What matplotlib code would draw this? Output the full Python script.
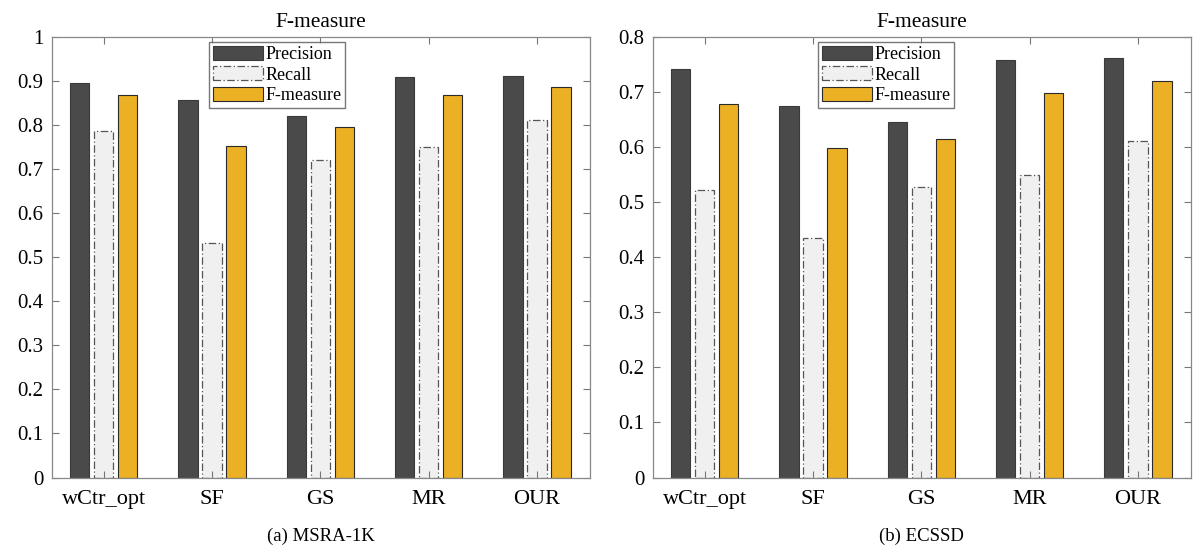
import numpy as np
import matplotlib.pyplot as plt

methods = ["wCtr_opt", "SF", "GS", "MR", "OUR"]

msra_precision = [0.895, 0.856, 0.820, 0.909, 0.911]
msra_recall = [0.786, 0.532, 0.721, 0.749, 0.812]
msra_fmeasure = [0.868, 0.751, 0.795, 0.868, 0.886]

ecssd_precision = [0.742, 0.674, 0.646, 0.758, 0.761]
ecssd_recall = [0.521, 0.434, 0.527, 0.549, 0.611]
ecssd_fmeasure = [0.677, 0.598, 0.615, 0.698, 0.720]

plt.rcParams["font.family"] = ["Liberation Serif", "DejaVu Serif"]

fig = plt.figure(figsize=(11.98, 5.49), dpi=100)


def draw_panel(ax, prec, rec, fm, ymax, yticks, caption, leg_x):
    x = np.arange(1, len(methods) + 1)
    off = 0.222
    w = 0.178
    ax.bar(x - off, prec, w, color="#4a4a4a", edgecolor="#3a3a3a",
           linewidth=0.8, label="Precision")
    ax.bar(x, rec, w, color="#f0f0f0", edgecolor="#555555",
           linewidth=0.9, linestyle=(0, (6, 2, 1, 2)), label="Recall")
    ax.bar(x + off, fm, w, color="#ebb024", edgecolor="#2a2a2a",
           linewidth=0.8, label="F-measure")

    ax.set_xlim(0.52, 5.49)
    ax.set_ylim(0, ymax)
    ax.set_xticks(x)
    ax.set_xticklabels(methods, fontsize=16)
    ax.set_yticks(yticks)
    ax.set_yticklabels([f"{t:g}" for t in yticks], fontsize=15)
    ax.tick_params(direction="in", top=True, right=True, length=5,
                   color="#777777")
    ax.tick_params(axis="y", pad=6)
    ax.tick_params(axis="x", pad=9)
    for s in ax.spines.values():
        s.set_color("#888888")
        s.set_linewidth(0.9)
    ax.set_title("F-measure", fontsize=15.5, pad=7)
    leg = ax.legend(loc="upper left", bbox_to_anchor=(leg_x, 1.0),
                    fontsize=13, frameon=True, fancybox=False,
                    borderpad=0.2, handlelength=2.75, handleheight=0.8,
                    handletextpad=0.15, labelspacing=0.2,
                    borderaxespad=0.3)
    leg.get_frame().set_edgecolor("#555555")
    leg.get_frame().set_linewidth(1.0)
    pos = ax.get_position()
    fig.text(pos.x0 + pos.width / 2, 1 - 536 / 549, caption,
             ha="center", va="center", fontsize=13.5)


ax1 = fig.add_axes([0.0432, 0.1302, 0.4493, 0.803])
draw_panel(ax1, msra_precision, msra_recall, msra_fmeasure, 1.0,
           np.round(np.arange(0, 1.01, 0.1), 1), "(a) MSRA-1K", 0.283)

ax2 = fig.add_axes([0.5448, 0.1302, 0.4493, 0.803])
draw_panel(ax2, ecssd_precision, ecssd_recall, ecssd_fmeasure, 0.8,
           np.round(np.arange(0, 0.81, 0.1), 1), "(b) ECSSD", 0.298)

fig.savefig("out.png", dpi=100)
